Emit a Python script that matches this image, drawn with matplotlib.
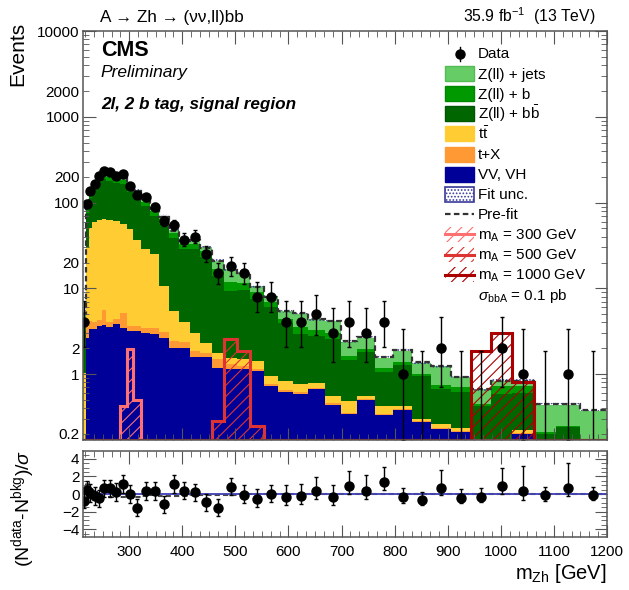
import numpy as np
import matplotlib.pyplot as plt
from matplotlib.patches import Rectangle
from matplotlib.lines import Line2D
from matplotlib.ticker import LogLocator, FuncFormatter, MultipleLocator

plt.rcParams['font.family'] = ['Liberation Sans', 'DejaVu Sans']
plt.rcParams['mathtext.fontset'] = 'custom'
plt.rcParams['mathtext.rm'] = 'Liberation Sans'
plt.rcParams['mathtext.it'] = 'Liberation Sans:italic'
plt.rcParams['mathtext.bf'] = 'Liberation Sans:bold'
plt.rcParams['mathtext.sf'] = 'Liberation Sans'
plt.rcParams['hatch.linewidth'] = 0.8

# m_Zh binning (GeV)
bin_edges = [213, 218, 223.5, 230.5, 239, 248, 257, 269, 282, 295, 308, 323, 339, 357,
             375, 394, 414, 434, 456, 479, 503, 528, 554, 581, 609, 637, 668, 699, 730,
             763, 797, 833, 869, 906, 944, 982, 1022, 1063, 1104, 1149, 1200]

data = [4, 96, 137, 164, 206, 235, 225, 206, 215, 157, 123, 115, 89, 61, 55, 37, 40, 25,
        15, 18, 15, 8, 8, 4, 4, 5, 3, 4, 3, 4, 1, 0, 2, 0, 0, 2, 1, 0, 1, 0]

vv_vh = [0.12, 2.65, 3.33, 3.33, 3.64, 3.74, 3.57, 3.87, 3.47, 3.18, 3.18, 3.04, 2.9, 2.65,
         2.03, 2.03, 1.58, 1.58, 1.18, 1.13, 1.13, 1.08, 0.72, 0.62, 0.58, 0.66, 0.44, 0.34,
         0.5, 0.33, 0.38, 0.275, 0.23, 0.21, 0.12, 0.12, 0.2, 0.1, 0.1, 0.08]
t_x = [0.02, 0.85, 0.8, 0.7, 0.6, 1.8, 0.5, 0.5, 1.7, 0.5, 0.45, 0.45, 0.5, 0.45, 0.4, 0.35,
       0.3, 0.2, 0.3, 0.17, 0.1, 0.05, 0.04, 0.03, 0.03, 0.02, 0.02, 0.01, 0.01, 0.01, 0.01,
       0.005, 0.005, 0.003, 0.003, 0.002, 0.005, 0.001, 0.001, 0.001]
ttbar = [0.88, 26.5, 46.9, 56, 58.8, 58.5, 59, 56.6, 51.8, 45.3, 32.9, 25.5, 21.6, 7.6, 3.0,
         1.62, 1.12, 0.52, 0.29, 0.25, 0.27, 0.29, 0.19, 0.18, 0.15, 0.11, 0.09, 0.13, 0.05,
         0.08, 0.03, 0.02, 0.025, 0.023, 0.007, 0.008, 0.015, 0.009, 0.009, 0.009]
z_bb = [2.2, 46, 63, 80, 113, 122, 117, 109, 109, 83, 78.5, 62, 45, 46.3, 33.6, 24.5, 25.5,
        21.1, 12.2, 7.75, 8, 6.1, 5.05, 3.07, 2.14, 2.01, 2.0, 0.97, 1.26, 0.64, 0.85, 0.65,
        0.4, 0.384, 0.29, 0.45, 0.38, 0.09, 0.13, 0.01]
z_b = [1.0, 9.5, 14, 17, 21, 23, 21, 20, 20, 15, 15, 12, 10, 8, 5.5, 4.5, 4.5, 3.6, 3, 2.7,
       2, 1.5, 1.0, 0.5, 0.6, 0.5, 0.45, 0.17, 0.13, 0.12, 0.12, 0.05, 0.08, 0.08, 0.03,
       0.14, 0.12, 0.01, 0.01, 0.01]
z_jets = [1.1, 5.5, 8, 10, 13, 13, 13, 12, 12, 10, 10, 8, 6, 5, 3.5, 4, 4, 3, 4, 4.7, 3.5,
          1.5, 1.1, 1.0, 1.5, 1.05, 1.16, 0.75, 0.7, 0.37, 0.47, 0.36, 0.5, 0.22, 0.21, 0.11,
          0.11, 0.23, 0.19, 0.26]

prefit = [5.0, 98, 140, 170, 206, 218, 210, 204, 196, 152, 136, 109, 85, 68, 47, 36, 36.5,
          29.5, 21, 16.5, 15.2, 10.4, 8.0, 5.5, 5.1, 4.4, 4.2, 2.4, 2.7, 1.6, 1.9, 1.38,
          1.25, 0.93, 0.67, 0.84, 0.84, 0.45, 0.45, 0.38]

sig_300 = [0]*8 + [0.42, 1.94, 0.5] + [0]*29
sig_500 = [0]*18 + [0.28, 2.54, 1.86, 0.25] + [0]*18
sig_1000 = [0]*34 + [1.86, 3.04, 0.805] + [0]*3

pulls = [-0.8, 0.5, 0.1, -0.2, -0.5, 0.65, 0.65, 0.26, 1.14, 0.0, -1.56, 0.34, 0.34, -1.18,
         1.14, 0.38, 0.19, -0.95, -1.56, 0.83, -0.1, -0.57, -0.03, -0.38, -0.23, 0.38, -0.38,
         0.91, 0.34, 1.33, -0.3, -0.68, 0.65, -0.42, -0.3, 0.95, 0.34, -0.15, 0.72, -0.1]
pull_hi = [0.9] + [1.0]*19 + [1.1, 1.1, 1.1, 1.4, 1.4, 1.6, 1.4, 1.7, 1.8, 1.7, 1.0, 0.95,
                             2.1, 1.0, 1.0, 2.05, 2.8, 1.0, 2.8, 0.95]
pull_lo = [0.8] + [1.0]*19 + [0.9]*10 + [0.75, 0.55, 0.75, 0.6, 0.6, 0.9, 1.0, 0.6, 1.0, 0.6]
prefit_pull = [0.0, 1.2, 0.6, 0.2, -0.2, -0.3, -0.3, -0.1, -0.3, -0.4, -0.3, -0.2, -0.1,
               -0.2, -0.2, -0.2, -0.1, -0.1, -0.1, -0.1] + [0.0]*20

c_zjets, c_zb, c_zbb = '#66cc66', '#009900', '#006600'
c_tt, c_tx, c_vv = '#ffcc33', '#ff9933', '#000099'
c_unc, c_pre = '#3a3a9a', '#333333'
sig_cols = ['#ff7070', '#dd3333', '#aa0000']

edges = np.array(bin_edges)
centers = 0.5 * (edges[1:] + edges[:-1])
ymin, ymax = 0.17, 10000
W, H = 629, 590

fig = plt.figure(figsize=(W / 100, H / 100), dpi=100)
ax = fig.add_axes([0.132, 0.2542, 0.833, 0.693])
ax2 = fig.add_axes([0.132, 0.0898, 0.833, 0.1458])

# stacked backgrounds
layers = [(vv_vh, c_vv), (t_x, c_tx), (ttbar, c_tt),
          (z_bb, c_zbb), (z_b, c_zb), (z_jets, c_zjets)]
bottom = np.full(len(data), 1e-3)
for vals, col in layers:
    top = bottom + np.array(vals)
    ax.stairs(top, edges, baseline=bottom, fill=True, color=col, lw=0)
    bottom = top
total = bottom

ax.stairs(total * 1.04, edges, baseline=total * 0.96, fill=True, facecolor='none',
          edgecolor=c_unc, hatch='.....', lw=0)
ax.stairs(prefit, edges, baseline=None, color=c_pre, ls=(0, (2.5, 1.5)), lw=1.6)

# signals
for sig, col in zip([sig_300, sig_500, sig_1000], sig_cols):
    vals = np.maximum(np.array(sig, float), ymin)
    ax.stairs(vals, edges, baseline=ymin, fill=True, facecolor='none', edgecolor=col,
              hatch='///', lw=2.2)

# data
n = np.array(data, float)
up = 1 + np.sqrt(n + 0.75)
nn = np.maximum(n, 1)
lo = np.where(n > 0, n - n * (1 - 1 / (9 * nn) - 1 / (3 * np.sqrt(nn))) ** 3, 0)
nz = n > 0
ax.errorbar(centers[~nz], n[~nz], yerr=[lo[~nz], up[~nz]], fmt='none', ecolor='k',
            elinewidth=1, capsize=1.5)
ax.errorbar(centers[nz], n[nz], yerr=[lo[nz], up[nz]], fmt='o', color='k', ms=6.5,
            elinewidth=1, capsize=1.5)

ax.set_xlim(edges[0], edges[-1])
ax.set_yscale('log')
ax.set_ylim(ymin, ymax)

def logfmt(v, pos):
    m = v / 10 ** np.floor(np.log10(v) + 1e-9)
    if abs(m - 1) < 1e-6 or abs(m - 2) < 1e-6:
        return '%g' % v
    return ''

ax.yaxis.set_major_locator(LogLocator(base=10, numticks=20))
ax.yaxis.set_minor_locator(LogLocator(base=10, subs=np.arange(2, 10), numticks=20))
ax.yaxis.set_major_formatter(FuncFormatter(logfmt))
ax.yaxis.set_minor_formatter(FuncFormatter(logfmt))
for a in (ax, ax2):
    a.xaxis.set_major_locator(MultipleLocator(100))
    a.xaxis.set_minor_locator(MultipleLocator(100 / 6))
    a.tick_params(which='both', direction='in', top=True, right=True, labelsize=11,
                  color='#555555', pad=2.5)
    a.tick_params(which='major', length=9)
    a.tick_params(which='minor', length=4.5)
    for s in a.spines.values():
        s.set_color('#555555')
        s.set_linewidth(1.1)
ax2.tick_params(axis='x', which='both', pad=6)
ax.tick_params(labelbottom=False)
ax.set_ylabel('Events', fontsize=15, loc='top')
ax.yaxis.set_label_coords(-0.107, 1.023)

# legend, drawn row by row in figure pixels
def fx(px):
    return px / W

def fy(py):
    return 1 - py / H

row0, drow = 53.5, 20.1
box_x, box_w, box_h, txt_x = 445, 29, 15, 478
labels = ['Data', 'Z(ll) + jets', 'Z(ll) + b', r'Z(ll) + b$\bar{\mathrm{b}}$',
          r't$\bar{\mathrm{t}}$', 't+X', 'VV, VH', 'Fit unc.', 'Pre-fit',
          r'm$_{\mathrm{A}}$ = 300 GeV', r'm$_{\mathrm{A}}$ = 500 GeV',
          r'm$_{\mathrm{A}}$ = 1000 GeV', r'$\sigma_{\mathrm{bbA}}$ = 0.1 pb']
fills = {1: (c_zjets, '#55bb55'), 2: (c_zb, '#008800'), 3: (c_zbb, '#005500'),
         4: (c_tt, c_tt), 5: (c_tx, c_tx), 6: (c_vv, c_vv)}
for i, lab in enumerate(labels):
    yc = row0 + i * drow
    xc = box_x + box_w / 2
    rect = (fx(box_x), fy(yc + box_h / 2), box_w / W, box_h / H)
    if i == 0:
        fig.add_artist(Line2D([fx(xc)] * 2, [fy(yc - 7), fy(yc + 7)], color='k', lw=1))
        fig.add_artist(Line2D([fx(xc)], [fy(yc)], marker='o', ms=6.5, color='k'))
    elif i in fills:
        fc, ec = fills[i]
        fig.add_artist(Rectangle(rect[:2], rect[2], rect[3], facecolor=fc, edgecolor=ec,
                                 lw=1, transform=fig.transFigure))
    elif i == 7:
        fig.add_artist(Rectangle(rect[:2], rect[2], rect[3], facecolor='white',
                                 edgecolor=c_unc, hatch='.....', lw=1.2,
                                 transform=fig.transFigure))
    elif i == 8:
        fig.add_artist(Line2D([fx(box_x), fx(box_x + box_w)], [fy(yc)] * 2, color=c_pre,
                              ls=(0, (2.5, 1.5)), lw=1.6))
    elif i in (9, 10, 11):
        col = sig_cols[i - 9]
        fig.add_artist(Rectangle(rect[:2], rect[2], rect[3], facecolor='none',
                                 edgecolor=col, hatch='///', lw=0,
                                 transform=fig.transFigure))
        fig.add_artist(Line2D([fx(box_x), fx(box_x + box_w)], [fy(yc)] * 2, color=col,
                              lw=2.2))
    fig.text(fx(txt_x), fy(yc + 5), lab, fontsize=11, va='baseline')

ax.text(0.034, 0.953, 'CMS', transform=ax.transAxes, fontsize=15.5, fontweight='bold',
        va='center')
ax.text(0.034, 0.899, 'Preliminary', transform=ax.transAxes, fontsize=12.5, style='italic',
        va='center')
ax.text(0.034, 0.82, '2l, 2 b tag, signal region', transform=ax.transAxes, fontsize=12.3,
        style='italic', fontweight='bold', va='center')
fig.text(0.159, 0.970, 'A → Zh → (νν,ll)bb', fontsize=12.3, va='center')
fig.text(0.946, 0.972, r'35.9 fb$^{-1}$  (13 TeV)', fontsize=11.3, va='center', ha='right')

# pull panel
ax2.stairs(np.full(len(pulls), 0.06), edges, baseline=-0.06, fill=True, color='#8888dd', lw=0)
ax2.axhline(0, color='#4444bb', lw=1.2)
ax2.stairs(prefit_pull, edges, baseline=None, color='#444444', ls=(0, (2.5, 1.5)), lw=1.5)
ax2.errorbar(centers, pulls, yerr=[pull_lo, pull_hi], fmt='o', color='k', ms=6.5,
             elinewidth=1, capsize=1.5)
ax2.set_xlim(edges[0], edges[-1])
ax2.set_ylim(-4.9, 4.9)
ax2.yaxis.set_major_locator(MultipleLocator(2))
ax2.yaxis.set_minor_locator(MultipleLocator(0.5))
ax2.set_xlabel(r'm$_{\mathrm{Zh}}$ [GeV]', fontsize=14.5, loc='right')
ax2.xaxis.set_label_coords(1.0, -0.29)
ax2.set_ylabel(r'(N$^{\mathrm{data}}$-N$^{\mathrm{bkg}}$)/$\sigma$', fontsize=14, loc='top')
ax2.yaxis.set_label_coords(-0.088, 1.01)

fig.savefig('out.png', dpi=100)
